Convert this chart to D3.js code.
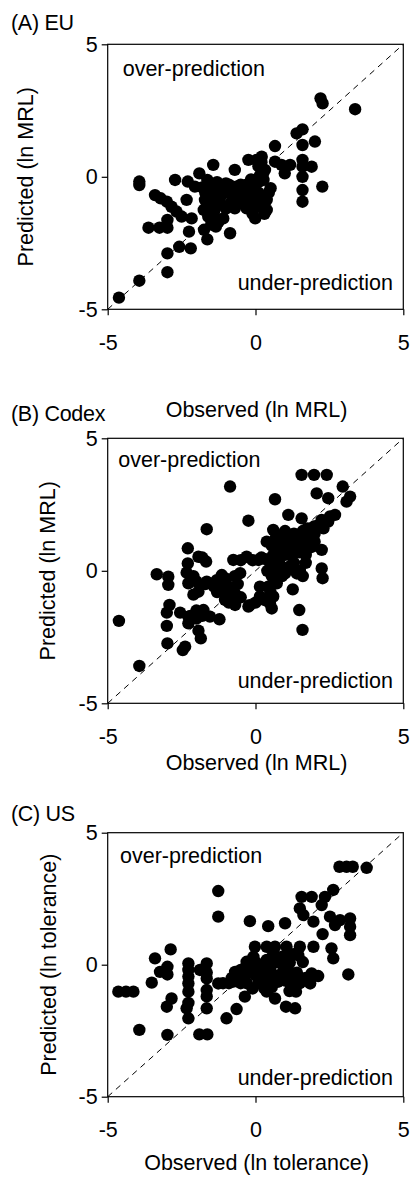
<!DOCTYPE html>
<html><head><meta charset="utf-8">
<script src="https://cdn.jsdelivr.net/npm/d3@7"></script>
<style>
body{margin:0;background:#fff}
text{font-family:"Liberation Sans",Arial,Helvetica,sans-serif;fill:#000}
</style>
</head><body>
<svg id="chart" width="411" height="1180"></svg>
<script>
// ---------- data ----------
const tickValues = [-5, 0, 5];
const panelTitles = ["(A) EU", "(B) Codex", "(C) US"];
const xTitles = ["Observed (ln MRL)", "Observed (ln MRL)", "Observed (ln tolerance)"];
const yTitles = ["Predicted (ln MRL)", "Predicted (ln MRL)", "Predicted (ln tolerance)"];
const overText = "over-prediction";
const underText = "under-prediction";

// (A) EU : [observed, predicted]
const euPoints = [
[-4.62,-4.56],[-3.93,-3.92],[-2.98,-3.6],[-2.98,-2.89],[-2.58,-2.64],[-2.19,-2.70],[-2.25,-2.07],
[-3.62,-1.92],[-3.25,-1.92],[-2.98,-1.92],[-2.98,-1.63],[-3.93,-0.18],[-3.93,-0.31],[-3.40,-0.69],
[-3.21,-0.81],[-3.0,-0.94],[-2.84,-1.13],[-2.67,-1.31],[-2.5,-1.5],[-2.16,-1.57],[-2.72,-0.12],
[-2.29,-0.18],[-2.33,-0.87],[-2.05,-0.37],[-1.9,0.13],[-1.63,-0.12],[-1.74,-2.0],[-1.63,-2.36],
[-1.63,-1.25],[-1.71,-0.87],[-1.43,0.45],[-1.37,-0.5],[-1.2,-0.37],[-1.34,-1.88],[-1.09,-1.57],
[-0.86,-2.13],[-1.0,-0.25],[-0.70,0.26],[-0.70,-1.19],[-0.64,-0.37],[-0.30,-1.19],[-0.24,0.64],
[0.04,0.64],[0.21,0.76],[-0.01,-1.57],[0.04,-1.13],[0.38,-0.87],[0.38,-1.25],[0.51,-0.43],
[0.32,0.26],[0.27,-0.12],[-0.07,-0.5],[0.66,1.16],[0.66,0.57],[0.99,0.13],[0.88,0.45],[1.17,0.45],
[1.39,1.64],[1.59,1.79],[1.59,1.2],[1.59,0.64],[1.59,0.38],[1.59,0.0],[1.59,-0.5],[1.59,-0.94],
[1.9,0.38],[2.01,1.33],[2.26,-0.37],[2.2,2.96],[2.27,2.77],[3.37,2.55],
[-1.5,-0.7],[-1.3,-1.0],[-1.6,-1.5],[-1.4,-1.3],[-1.2,-0.8],[-0.9,-0.6],[-0.8,-0.9],[-0.6,-0.7],
[-0.4,-0.5],[-0.5,-1.0],[-0.2,-0.8],[-0.1,-0.3],[0.1,-0.2],[0.2,0.3],[0.1,-0.6],[0.2,-0.9],
[0.3,-1.4],[-0.1,-1.4],[-0.3,-0.3],[-1.1,-0.4],[-1.8,-0.4],[-1.7,-0.6],[-1.6,-1.0],[-1.5,-1.8],
[-1.0,-1.2],[0.1,0.4],[0.25,0.1],[-0.5,-0.3],[-0.9,-0.3],[-1.3,-0.2],
[-1.55,-0.3],[-1.45,-1.5],[-1.15,-1.05],[-0.75,-0.45],[-0.55,-0.85],[-0.25,-1.0],[0.0,-0.9],
[0.15,0.05],[0.2,0.55],[-0.15,-0.1],[-1.75,-1.25],[-1.25,-1.7],[0.45,-0.6]
];

// (B) Codex : [observed, predicted]
const codexPoints = [
[-4.62,-1.89],[-3.93,-3.59],[-3.34,-0.13],[-2.95,-0.22],[-2.95,-0.53],[-2.91,-1.29],[-3.0,-1.58],
[-3.0,-2.08],[-2.98,-2.74],[-2.46,-2.99],[-2.38,-2.86],[-2.55,-1.58],[-2.27,-1.73],[-2.27,-1.98],
[-1.93,-1.58],[-1.76,-1.48],[-1.54,-1.73],[-1.22,-1.83],[-1.93,-2.26],[-1.85,-2.55],[-2.29,0.85],
[-2.29,0.28],[-2.33,-0.07],[-2.27,-0.47],[-1.93,0.53],[-1.67,0.35],[-1.65,1.57],[-1.93,-0.79],
[-1.65,-0.41],[-1.31,-0.35],[-1.14,-0.16],[-0.86,3.18],[-0.75,0.41],[-0.52,-0.09],[-0.30,0.53],
[-0.24,1.89],[-0.86,-0.72],[-0.69,-1.29],[-1.03,-1.1],[-0.24,-1.35],[0.15,-0.97],[0.1,0.41],
[0.15,-0.6],[0.49,-1.23],[0.55,-1.42],[0.43,-0.6],[0.6,-0.97],[0.66,2.7],[0.72,-0.47],[0.74,-0.09],
[0.38,1.1],[0.6,1.54],[0.72,0.79],[1.11,2.11],[1.26,-0.7],[1.48,-1.48],[1.59,-2.23],[1.56,3.62],
[1.98,3.62],[2.41,3.62],[2.07,2.92],[2.24,0.79],[2.24,0.09],[2.27,-0.28],[2.95,3.18],[2.46,2.74],
[3.2,2.8],[3.08,2.61],[2.69,2.11],[1.56,1.98],[1.98,1.67],[2.24,1.92],[2.46,1.86],[2.52,2.05],
[0.5,0.3],[0.6,0.6],[0.8,0.9],[0.9,1.2],[1.0,0.6],[1.2,0.9],[1.3,1.4],[1.4,1.1],[1.5,0.7],[1.6,1.5],
[1.7,0.3],[1.5,0.0],[1.3,0.3],[1.1,0.1],[0.9,-0.2],[0.7,0.2],[1.8,1.2],[1.9,0.9],[2.0,1.4],[1.0,1.5],
[0.7,1.3],[1.6,-0.2],[1.4,-0.1],[0.4,0.0],[0.2,0.5],
[-1.0,-0.3],[-0.9,-0.6],[-0.8,-0.9],[-1.1,-0.8],[-0.6,-0.5],[-0.7,-0.2],[-1.2,-0.5],[-0.5,-1.0],
[-0.9,-1.2],[-1.4,-0.6],[-1.7,-0.5],[-2.0,-0.4],[-2.1,-0.9],[-2.2,-1.7],[-2.0,-1.8],[-1.8,-1.7],
[-0.2,-1.3],[0.0,-1.2],[0.3,-1.1],[0.5,-0.8],
[0.55,0.95],[0.65,0.45],[0.85,0.55],[0.95,0.85],[1.05,1.1],[1.15,1.3],[1.25,0.6],[1.35,0.85],
[1.45,1.35],[1.55,1.2],[1.65,0.9],[1.75,1.6],[1.85,1.45],[2.1,1.7],[1.2,0.2],[0.85,0.2],[1.0,-0.1],
[0.55,-0.2],[1.7,0.6],[2.0,1.1],[2.3,1.6],[0.3,0.45],[-0.1,0.4],[-0.5,0.4],[-1.3,-0.8],[-1.0,-0.6],
[-0.7,-0.85],[-0.95,-0.9],[-2.0,-1.5],[-2.1,-0.2],[-1.8,0.5]
];

// (C) US : [observed, predicted]
const usPoints = [
[-4.64,-1.02],[-4.38,-1.02],[-4.13,-1.02],[-3.93,-2.47],[-3.51,-0.68],[-3.4,0.24],[-3.23,-0.27],
[-2.98,-0.08],[-2.98,-0.37],[-2.87,0.58],[-2.84,-1.28],[-3.0,-1.59],[-2.98,-2.66],[-2.27,-0.2],
[-2.27,-0.45],[-2.27,-0.71],[-2.27,-1.02],[-2.33,-1.65],[-2.27,-2.03],[-1.88,-0.2],[-1.65,0.05],
[-1.65,-0.52],[-1.65,-0.96],[-1.65,-1.65],[-1.9,-2.64],[-1.63,-2.64],[-1.26,2.79],[-1.26,1.82],
[-1.26,-0.71],[-0.98,-2.03],[-0.64,-1.68],[-0.36,-1.21],[-0.69,-0.27],[-0.75,-0.64],[-0.30,0.11],
[-0.19,1.65],[-0.02,0.68],[-0.07,0.3],[0.38,0.18],[0.43,1.46],[0.38,0.68],[0.66,0.68],[1.0,1.57],
[1.05,0.68],[0.38,-1.02],[0.66,-1.28],[1.03,-1.59],[1.34,-1.65],[1.37,-1.02],[1.5,0.68],[1.5,2.13],
[1.62,1.88],[1.56,2.57],[1.9,2.57],[2.24,2.26],[2.35,2.57],[2.63,2.83],[1.96,1.63],[2.27,1.16],
[2.52,1.82],[2.69,1.5],[3.2,1.75],[3.2,1.44],[3.2,1.12],[2.86,1.69],[2.57,0.62],[2.63,0.24],
[3.14,-0.37],[2.84,3.71],[3.08,3.71],[3.29,3.71],[3.76,3.67],[1.96,0.68],[1.85,-0.71],[2.12,-0.43],
[1.9,-0.33],[1.28,-0.45],[0.94,-0.27],[1.16,0.08],[1.28,0.4],
[-0.9,-0.7],[-0.6,-0.6],[-0.4,-0.5],[-0.2,-0.3],[0.0,-0.4],[0.2,-0.3],[0.4,-0.5],[0.6,-0.6],
[0.8,-0.4],[1.0,-0.6],[1.2,-0.8],[0.1,-0.7],[0.3,-0.9],[-0.1,-0.9],[0.5,-0.2],[0.7,0.1],[0.9,0.3],
[-0.3,0.0],[0.0,0.1],[0.2,0.0],[1.1,-0.2],[-0.5,-0.2],[-0.8,-0.5],[0.6,0.4],[1.4,-0.3],[1.6,0.1],[1.7,-0.5],
[-1.1,-0.7],[-0.5,-0.7],[-0.3,-0.7],[0.15,-0.55],[0.35,-0.65],[0.75,-0.65],[0.9,-0.55],[1.3,-0.65],
[-0.15,0.0],[0.05,-0.2],[0.45,0.1],[0.85,0.05],[1.05,0.35],[1.45,0.35],[-0.45,-0.45],[0.55,-0.85],
[1.15,-1.0],[1.5,-0.7],[-2.27,0.05],[-1.65,-0.3],[-2.27,-1.45],[-1.65,-1.2]
];

// ---------- layout ----------
const FS = 21.5;
const layout = [
  {pts: euPoints,    top: 44.3,  h: 265, titleY: 30,    xLabelY: 416.7, yLabelX: 33, overX: 122.7, overY: 76,    underY: 290},
  {pts: codexPoints, top: 438.3, h: 265, titleY: 421,   xLabelY: 770,   yLabelX: 55, overX: 118.3, overY: 467.3, underY: 688.3},
  {pts: usPoints,    top: 832.7, h: 264, titleY: 821,   xLabelY: 1170,  yLabelX: 56, overX: 120,   overY: 863.3, underY: 1085}
];
const left = 107.7, right = 403.3;

const svg = d3.select("#chart");

layout.forEach((p, i) => {
  const g = svg.append("g");
  const x = d3.scaleLinear().domain([-5, 5]).range([left, right]);
  const y = d3.scaleLinear().domain([-5, 5]).range([p.top + p.h, p.top]);

  g.append("text").attr("x", 11).attr("y", p.titleY)
    .attr("font-size", FS).attr("letter-spacing", "-0.3px").text(panelTitles[i]);

  g.append("line")
    .attr("x1", x(-5)).attr("y1", y(-5)).attr("x2", x(5)).attr("y2", y(5))
    .attr("stroke", "#000").attr("stroke-width", 1).attr("stroke-dasharray", "6,5");

  g.append("g").selectAll("circle").data(p.pts).join("circle")
    .attr("cx", d => x(d[0])).attr("cy", d => y(d[1])).attr("r", 6.2).attr("fill", "#000");

  g.append("rect").attr("x", left).attr("y", p.top)
    .attr("width", right - left).attr("height", p.h)
    .attr("fill", "none").attr("stroke", "#000").attr("stroke-width", 1.2);

  const xa = g.append("g").attr("transform", `translate(0,${p.top + p.h})`)
    .call(d3.axisBottom(x).tickValues(tickValues).tickSize(6).tickPadding(19).tickFormat(d => String(d)));
  const ya = g.append("g").attr("transform", `translate(${left},0)`)
    .call(d3.axisLeft(y).tickValues(tickValues).tickSize(6).tickPadding(4).tickFormat(d => String(d)));
  [xa, ya].forEach(a => {
    a.select(".domain").remove();
    a.selectAll("line").attr("stroke", "#000").attr("stroke-width", 1.2);
    a.selectAll("text").attr("font-size", FS).attr("font-family", "'Liberation Sans',Arial,sans-serif").attr("fill", "#000");
  });

  g.append("text").attr("x", (left + right) / 2 + 1).attr("y", p.xLabelY)
    .attr("text-anchor", "middle").attr("font-size", FS).text(xTitles[i]);
  g.append("text")
    .attr("transform", `translate(${p.yLabelX},${p.top + p.h / 2}) rotate(-90)`)
    .attr("text-anchor", "middle").attr("font-size", FS).text(yTitles[i]);

  g.append("text").attr("x", p.overX).attr("y", p.overY).attr("font-size", FS).text(overText);
  g.append("text").attr("x", 393).attr("y", p.underY).attr("text-anchor", "end")
    .attr("font-size", FS).text(underText);
});
</script>
</body></html>
